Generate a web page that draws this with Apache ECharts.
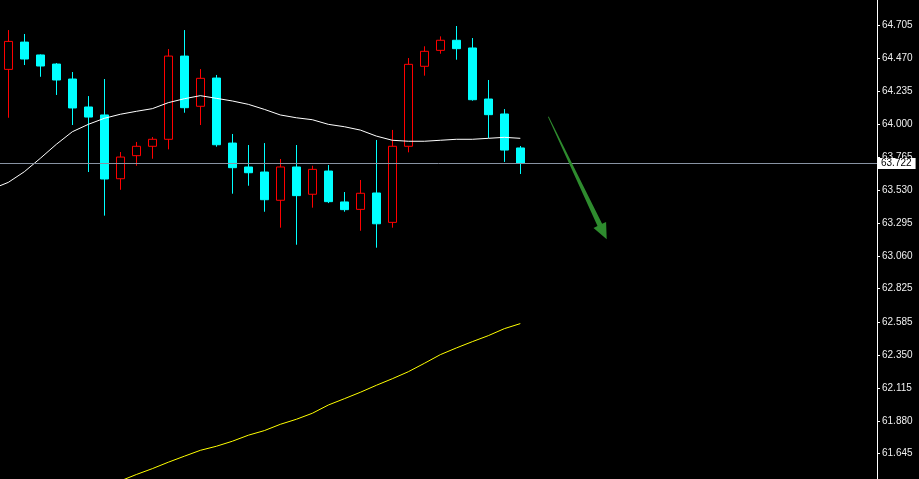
<!DOCTYPE html>
<html>
<head>
<meta charset="utf-8">
<style>
  html, body { margin: 0; padding: 0; background: #000; }
  #chart { width: 919px; height: 479px; }
</style>
<script src="https://cdn.jsdelivr.net/npm/echarts@6/dist/echarts.min.js"></script>
</head>
<body>
<div id="chart"></div>
<script>
// ---- Data ----
// bar index -1 is the bar just left of the picture edge (only its MA value reaches the picture)
var opens  = [64.393,64.588,64.496,64.431,64.324,64.124,64.067,63.611,63.776,63.843,63.893,64.488,64.129,64.331,63.866,63.695,63.659,63.457,63.695,63.500,63.666,63.445,63.392,63.509,63.299,63.843,64.415,64.529,64.601,64.546,64.181,64.074,63.831];
var closes = [64.593,64.467,64.417,64.317,64.117,64.052,63.609,63.766,63.843,63.893,64.488,64.119,64.329,63.854,63.690,63.654,63.461,63.695,63.490,63.678,63.447,63.390,63.507,63.289,63.843,64.429,64.522,64.601,64.541,64.176,64.069,63.816,63.722];
var lows   = [64.047,64.424,64.340,64.210,63.995,63.659,63.347,63.532,63.704,63.754,63.821,64.083,63.995,63.840,63.504,63.561,63.375,63.261,63.139,63.404,63.437,63.375,63.239,63.118,63.261,63.800,64.348,64.505,64.462,64.169,63.902,63.731,63.645];
var highs  = [64.674,64.646,64.500,64.438,64.374,64.202,64.324,63.802,63.874,63.909,64.538,64.674,64.395,64.353,63.931,63.852,63.866,63.752,63.852,63.704,63.709,63.516,63.602,63.888,63.960,64.474,64.558,64.629,64.703,64.617,64.317,64.109,63.845];
// white MA starts at bar -1
var maWhite = [63.539,63.585,63.661,63.757,63.857,63.947,64.000,64.043,64.072,64.093,64.112,64.155,64.183,64.205,64.186,64.167,64.143,64.107,64.067,64.047,64.033,64.000,63.983,63.959,63.916,63.886,63.879,63.879,63.886,63.893,63.893,63.900,63.907,63.900];
// yellow MA starts at bar 6
var maYellow = [61.405,61.450,61.496,61.538,61.584,61.627,61.669,61.698,61.734,61.777,61.810,61.855,61.891,61.934,61.993,62.038,62.084,62.134,62.181,62.231,62.291,62.353,62.401,62.446,62.489,62.539,62.575];
var yTickValues = [64.705,64.470,64.235,64.000,63.765,63.530,63.295,63.060,62.825,62.585,62.350,62.115,61.880,61.645];
var currentPrice = 63.722;
var yMin = 61.464, yMax = 64.889;
var xMin = -0.52, xMax = 54.2925; // bar-index range of the plot area

var candles = [];
for (var j = 0; j < opens.length; j++) candles.push([j, opens[j], closes[j], lows[j], highs[j]]);
var whitePts = [];
for (var a = 0; a < maWhite.length; a++) whitePts.push([a - 1, maWhite[a]]);
var yellowPts = [];
for (var b = 0; b < maYellow.length; b++) yellowPts.push([b + 6, maYellow[b]]);

var chart = echarts.init(document.getElementById('chart'), null, { renderer: 'canvas' });
var fontFam = '"Liberation Sans", Arial, sans-serif';

chart.setOption({
  animation: false,
  backgroundColor: '#000000',
  grid: { left: 0, right: 42, top: 0, bottom: 0, containLabel: false },
  xAxis: {
    type: 'value', min: xMin, max: xMax,
    axisLine: { show: false, onZero: false }, axisTick: { show: false }, axisLabel: { show: false }, splitLine: { show: false }
  },
  yAxis: {
    type: 'value', position: 'right', min: yMin, max: yMax,
    axisLine: { show: true, onZero: false, lineStyle: { color: '#ffffff', width: 1 } },
    axisTick: { show: true, length: 3, customValues: yTickValues, lineStyle: { color: '#ffffff' } },
    axisLabel: {
      show: true, customValues: yTickValues, margin: 5, color: '#f0f0f0',
      fontFamily: fontFam, fontSize: 10,
      formatter: function (v) { return v.toFixed(3); }
    },
    splitLine: { show: false }
  },
  series: [
    {
      type: 'candlestick', data: candles, barWidth: 9,
      encode: { x: 0, y: [1, 2, 3, 4] },
      itemStyle: { color: '#000000', borderColor: '#ff0000', color0: '#00ffff', borderColor0: '#00ffff', borderWidth: 1 },
      markLine: {
        silent: true, symbol: ['none', 'none'],
        lineStyle: { color: '#8893a3', width: 1, type: 'solid' },
        label: {
          show: true, position: 'end', distance: 1,
          formatter: function () { return currentPrice.toFixed(3); },
          backgroundColor: '#ffffff', color: '#000000', fontFamily: fontFam, fontSize: 10,
          padding: [1, 4, 0, 3]
        },
        data: [{ yAxis: currentPrice }]
      },
      z: 3
    },
    {
      type: 'line', data: whitePts, symbol: 'none', smooth: false,
      lineStyle: { color: '#ffffff', width: 1 }, z: 4
    },
    {
      type: 'line', data: yellowPts, symbol: 'none', smooth: false,
      lineStyle: { color: '#ffff00', width: 1 }, z: 4
    }
  ],
  graphic: [
    {
      type: 'polygon', z: 10, silent: true,
      shape: { points: [[548.0,116.9],[597.5,226.0],[593.5,227.9],[606.7,239.3],[606.1,221.9],[602.1,223.8],[548.7,116.5]] },
      style: { fill: '#2e8b2e' }
    }
  ]
});
</script>
</body>
</html>
